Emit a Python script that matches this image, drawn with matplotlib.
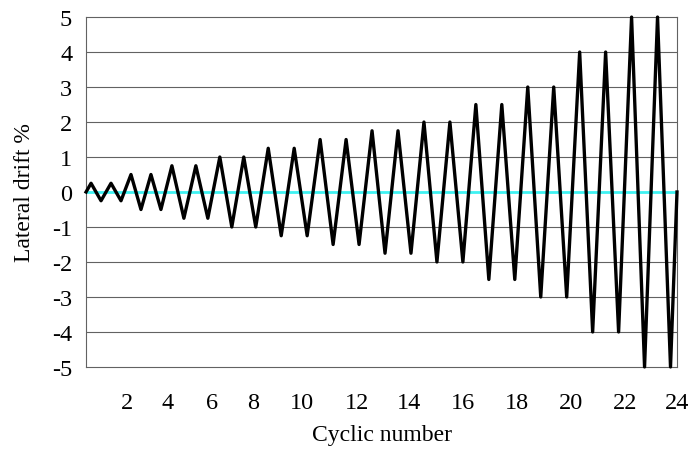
import numpy as np
import matplotlib
matplotlib.use('Agg')
import matplotlib.pyplot as plt

# drift amplitude (%) of each loading cycle
amplitude = [0.25, 0.25, 0.5, 0.5, 0.75, 0.75, 1, 1, 1.25, 1.25, 1.5, 1.5,
             1.75, 1.75, 2, 2, 2.5, 2.5, 3, 3, 4, 4, 5, 5]
# load steps used by each cycle
cycle_steps = [10, 10, 10, 10, 12, 12, 12, 12, 13, 13, 13, 13,
               13, 13, 13, 13, 13, 13, 13, 13, 13, 13, 13, 13]
# cyclic number labels and the load step they sit under
tick_labels = ['2', '4', '6', '8', '10', '12', '14', '16', '18', '20', '22', '24']
tick_steps = [20.5, 41, 63, 83.5, 108, 135.5, 162, 189, 216, 243, 270, 296]

# build the zigzag: 0 -> +a -> -a -> ... -> 0
starts = np.concatenate([[0], np.cumsum(cycle_steps)[:-1]])
x = [0.0]
y = [0.0]
for s, w, a in zip(starts, cycle_steps, amplitude):
    x += [s + w / 4, s + 3 * w / 4]
    y += [a, -a]
total = float(np.sum(cycle_steps))
x.append(total)
y.append(0.0)

plt.rcParams['font.family'] = ['Liberation Serif', 'DejaVu Serif']
plt.rcParams['axes.unicode_minus'] = False

fig = plt.figure(figsize=(6.94, 4.52), dpi=100)
ax = fig.add_axes([0.124, 0.186, 0.8515, 0.774])

for v in range(-4, 5):
    if v != 0:
        ax.axhline(v, color='#626262', lw=0.8, zorder=1)
ax.plot([0, total], [0, 0], color='#3ff2f2', lw=2.0, zorder=2)
ax.plot(x, y, color='black', lw=2.4, zorder=3, clip_on=False)

ax.set_xlim(0, total)
ax.set_ylim(-5, 5)
ax.set_yticks(range(-5, 6))
ax.set_yticklabels([str(v) for v in range(-5, 6)])
ax.set_xticks(tick_steps)
ax.set_xticklabels(tick_labels)
ax.tick_params(length=0, labelsize=17.5)
ax.tick_params(axis='y', pad=10)
ax.tick_params(axis='x', pad=18)
for sp in ax.spines.values():
    sp.set_color('#626262')
    sp.set_linewidth(0.8)

ax.set_xlabel('Cyclic number', fontsize=17, labelpad=8)
ax.set_ylabel('Lateral drift %', fontsize=17, labelpad=12)

fig.savefig('out.png', dpi=100)
